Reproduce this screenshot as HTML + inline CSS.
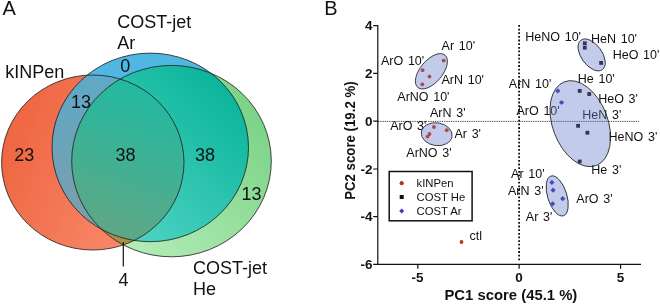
<!DOCTYPE html>
<html><head><meta charset="utf-8">
<style>
html,body{margin:0;padding:0;background:#fff;}
svg{display:block;opacity:0.999;will-change:opacity;}
text{font-family:"Liberation Sans",sans-serif;fill:#111;}
.b{font-weight:bold;}
.l{font-size:12.5px;word-spacing:1.2px;}
.t{font-size:13.5px;font-weight:bold;}
.v{font-size:18px;}
</style></head>
<body>
<svg width="660" height="304" viewBox="0 0 660 304">
<defs>
<linearGradient id="gR" x1="0" y1="0.3" x2="1" y2="0.7"><stop offset="0" stop-color="#ef6440"/><stop offset="1" stop-color="#fa9172"/></linearGradient>
<linearGradient id="gG" x1="0.2" y1="1" x2="1" y2="0.3"><stop offset="0" stop-color="#b8efbb"/><stop offset="1" stop-color="#7bd387"/></linearGradient>
<linearGradient id="gBG" x1="0" y1="1" x2="1" y2="0"><stop offset="0.2" stop-color="#50d3c4"/><stop offset="0.9" stop-color="#06b398"/></linearGradient>
<linearGradient id="gRGB" x1="0.55" y1="1" x2="0.9" y2="0.05"><stop offset="0" stop-color="#66a582"/><stop offset="1" stop-color="#1dbba3"/></linearGradient>
<linearGradient id="gRB" x1="0" y1="0" x2="0" y2="1"><stop offset="0" stop-color="#5fa9c6"/><stop offset="1" stop-color="#7f9ca8"/></linearGradient>
<ellipse id="eR" cx="92.8" cy="162.5" rx="91.2" ry="87.5"/>
<ellipse id="eB" cx="150.25" cy="147.4" rx="98.25" ry="94.3"/>
<ellipse id="eG" cx="171.5" cy="161.1" rx="99.8" ry="95.7"/>
<clipPath id="cB"><use href="#eB"/></clipPath>
<clipPath id="cG"><use href="#eG"/></clipPath>
</defs>
<!-- Venn -->
<use href="#eR" fill="url(#gR)"/>
<use href="#eB" fill="#4fb7e2"/>
<use href="#eR" fill="url(#gRB)" clip-path="url(#cB)"/>
<use href="#eG" fill="url(#gG)"/>
<use href="#eB" fill="url(#gBG)" clip-path="url(#cG)"/>
<use href="#eR" fill="#a99047" clip-path="url(#cG)"/>
<g clip-path="url(#cG)"><use href="#eR" fill="url(#gRGB)" clip-path="url(#cB)"/></g>
<g fill="none" stroke="#1a1a1a" stroke-width="0.8">
<use href="#eR"/><use href="#eB"/><use href="#eG"/>
</g>
<line x1="123.3" y1="242" x2="123.3" y2="266.5" stroke="#111" stroke-width="1.2"/>
<text x="2.5" y="15.3" font-size="20">A</text>
<text x="5.3" y="77.8" class="v">kINPen</text>
<text x="117.3" y="28.3" class="v">COST-jet</text>
<text x="117.3" y="49" class="v">Ar</text>
<text x="193" y="274" class="v">COST-jet</text>
<text x="193" y="295" class="v">He</text>
<text x="120.3" y="72.3" class="v">0</text>
<text x="71" y="108" class="v">13</text>
<text x="14.2" y="160.5" class="v">23</text>
<text x="115.4" y="160.5" class="v">38</text>
<text x="195" y="160.5" class="v">38</text>
<text x="241.6" y="200.3" class="v">13</text>
<text x="118.5" y="286" class="v">4</text>

<!-- Panel B -->
<text x="324.3" y="15" font-size="20">B</text>
<!-- axes -->
<g stroke="#111" stroke-width="1.2" fill="none">
<path d="M377.8 25 V264.4 H641"/>
<path d="M373.2 25.6H377.8 M373.2 73.4H377.8 M373.2 121.2H377.8 M373.2 169H377.8 M373.2 216.7H377.8 M373.2 264.4H377.8"/>
<path d="M417.8 264.4V268.8 M519.1 264.4V268.8 M620.6 264.4V268.8"/>
</g>
<line x1="519.1" y1="25" x2="519.1" y2="262" stroke="#111" stroke-width="1.8" stroke-dasharray="1.8 1.847"/>
<line x1="378" y1="121.4" x2="639.4" y2="121.4" stroke="#111" stroke-width="0.9" stroke-dasharray="0.9 0.88"/>
<g class="t" text-anchor="end">
<text x="372.6" y="30">4</text>
<text x="372.6" y="77.9">2</text>
<text x="372.6" y="125.7">0</text>
<text x="372.6" y="173.5">-2</text>
<text x="372.6" y="221.2">-4</text>
<text x="372.6" y="268.9">-6</text>
</g>
<g class="t" text-anchor="middle">
<text x="417.6" y="281.7">-5</text>
<text x="519.1" y="281.5">0</text>
<text x="620.6" y="281.5">5</text>
<text x="510.9" y="299.6" font-size="14.85">PC1 score (45.1 %)</text>
<text transform="translate(354.8 140.6) rotate(-90) scale(0.907 1.04)" font-size="14.6">PC2 score (19.2 %)</text>
</g>
<!-- labels -->
<g class="l">
<text x="441.6" y="50">Ar 10'</text>
<text x="381" y="64.7">ArO 10'</text>
<text x="441.5" y="84">ArN 10'</text>
<text x="397.3" y="100.7">ArNO 10'</text>
<text x="430" y="117.2">ArN 3'</text>
<text x="390.2" y="130">ArO 3'</text>
<text x="454.5" y="138">Ar 3'</text>
<text x="406.3" y="156.7">ArNO 3'</text>
<text x="469.5" y="239.7">ctl</text>
<text x="525.3" y="40.7">HeNO 10'</text>
<text x="591" y="43">HeN 10'</text>
<text x="612.7" y="58.8">HeO 10'</text>
<text x="577.8" y="82.6">He 10'</text>
<text x="508.8" y="87.8">ArN 10'</text>
<text x="598.2" y="102.5">HeO 3'</text>
<text x="516.5" y="115">ArO 10'</text>
<text x="582.3" y="119.3">HeN 3'</text>
<text x="608.6" y="141">HeNO 3'</text>
<text x="591.3" y="173.7">He 3'</text>
<text x="511.1" y="177.5">Ar 10'</text>
<text x="508" y="194.8">ArN 3'</text>
<text x="576.3" y="202.5">ArO 3'</text>
<text x="525.8" y="220.6">Ar 3'</text>
</g>
<!-- ellipses -->
<g fill="#697dcd" fill-opacity="0.4" stroke="#222" stroke-width="0.8">
<ellipse cx="431.4" cy="71.3" rx="21.1" ry="11.1" transform="rotate(-50 431.4 71.3)"/>
<ellipse cx="436.7" cy="134.2" rx="15.5" ry="11.4" transform="rotate(8 436.7 134.2)"/>
<ellipse cx="591.65" cy="54.9" rx="18.2" ry="10.4" transform="rotate(54 591.65 54.9)"/>
<ellipse cx="580.3" cy="123.65" rx="44.8" ry="27.6" transform="rotate(69.2 580.3 123.65)"/>
<ellipse cx="557.2" cy="195.9" rx="20.8" ry="9.6" transform="rotate(72.6 557.2 195.9)"/>
</g>
<!-- points -->
<g fill="#a84a50">
<circle cx="443.7" cy="60.6" r="1.9"/><circle cx="422.6" cy="70.2" r="1.9"/><circle cx="429.5" cy="76.6" r="1.9"/><circle cx="422.3" cy="84.3" r="1.9"/>
<circle cx="433.9" cy="127" r="1.9"/><circle cx="446.8" cy="130.2" r="1.9"/><circle cx="429.5" cy="134" r="1.9"/><circle cx="427.5" cy="136.6" r="1.9"/>
</g>
<circle cx="461.5" cy="242" r="1.9" fill="#b83418"/>
<g fill="#33335c">
<rect x="582.9" y="41.4" width="3.8" height="3.8"/><rect x="582.9" y="45.8" width="3.8" height="3.8"/><rect x="599.2" y="61" width="3.8" height="3.8"/>
<rect x="577.8" y="89" width="3.8" height="3.8"/><rect x="587.3" y="92.1" width="3.8" height="3.8"/>
<rect x="576.2" y="123.9" width="3.8" height="3.8"/><rect x="585.5" y="130.8" width="3.8" height="3.8"/><rect x="577.8" y="159.6" width="3.8" height="3.8"/>
</g>
<g fill="#5046c0">
<path id="dm" d="M0 -2.6L2.6 0L0 2.6L-2.6 0Z" transform="translate(557.8 90.9)"/>
<path d="M0 -2.6L2.6 0L0 2.6L-2.6 0Z" transform="translate(561.6 102.5)"/>
<path d="M0 -2.6L2.6 0L0 2.6L-2.6 0Z" transform="translate(551.9 182.4)"/>
<path d="M0 -2.6L2.6 0L0 2.6L-2.6 0Z" transform="translate(553.1 190.2)"/>
<path d="M0 -2.6L2.6 0L0 2.6L-2.6 0Z" transform="translate(562.7 198.7)"/>
<path d="M0 -2.6L2.6 0L0 2.6L-2.6 0Z" transform="translate(552.6 203.8)"/>
</g>
<!-- legend -->
<rect x="389.2" y="171.5" width="82.9" height="49.3" fill="#fff" stroke="#111" stroke-width="1.5"/>
<circle cx="401.7" cy="183.2" r="2.1" fill="#b83418"/>
<rect x="399.7" y="195" width="4" height="4" fill="#111"/>
<path d="M0 -2.5L2.5 0L0 2.5L-2.5 0Z" transform="translate(401.7 211)" fill="#4b35b5"/>
<g font-size="11.3">
<text x="416.5" y="187">kINPen</text>
<text x="416.5" y="200.9">COST He</text>
<text x="416.5" y="214.9">COST Ar</text>
</g>
</svg>
</body></html>
